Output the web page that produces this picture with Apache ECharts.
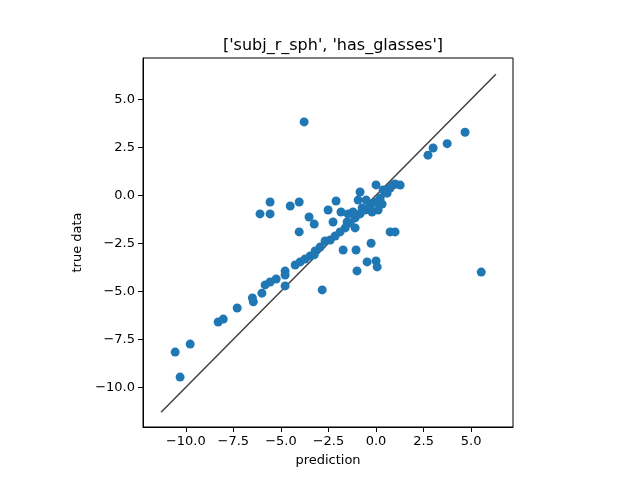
<!DOCTYPE html>
<html>
<head>
<meta charset="utf-8">
<script src="https://cdn.jsdelivr.net/npm/echarts@6/dist/echarts.min.js"></script>
<style>html,body{margin:0;padding:0;background:#fff}#main{width:640px;height:480px}</style>
</head>
<body>
<div id="main"></div>
<script>
// prediction vs true data
var points = [
	[-10.56, -8.17], [-9.77, -7.75], [-10.3, -9.47], [-8.3, -6.6], [-8.03, -6.45],
	[-7.3, -5.87], [-6.5, -5.35], [-6.45, -5.55], [-6.0, -5.1], [-5.83, -4.67],
	[-5.57, -4.52], [-5.25, -4.36], [-4.78, -3.95], [-4.78, -4.15], [-4.78, -4.72],
	[-4.25, -3.63], [-3.99, -3.47], [-3.73, -3.32], [-3.46, -3.16], [-3.25, -3.1],
	[-3.2, -2.9], [-2.94, -2.7], [-2.68, -2.38], [-2.41, -2.33], [-2.15, -2.12],
	[-1.89, -1.91], [-1.62, -1.7], [-1.36, -1.44], [-1.1, -1.18], [-0.84, -0.97],
	[-0.57, -0.77], [-0.31, -0.56], [-0.05, -0.35], [0.22, -0.14], [0.48, 0.17],
	[0.74, 0.38], [1.0, 0.59], [1.27, 0.53], [-3.78, 3.82], [4.68, 3.28],
	[3.74, 2.69], [3.0, 2.46], [2.73, 2.09], [5.53, -4.0], [-5.57, -0.97],
	[-6.1, -0.97], [-5.57, -0.35], [-4.51, -0.56], [-4.04, -0.35], [-4.04, -1.91],
	[-3.52, -1.13], [-3.25, -1.5], [-2.83, -4.93], [-2.52, -0.77], [-2.1, -0.3],
	[-1.84, -0.87], [-1.73, -2.85], [-1.05, -2.85], [-1.0, -3.94], [-0.84, 0.17],
	[-0.47, -3.47], [-0.26, -2.5], [0.0, -3.42], [0.06, -3.73], [0.74, -1.91],
	[1.0, -1.91], [-0.94, -0.25], [-1.47, -0.97], [-1.21, -0.87], [-0.52, -0.25],
	[0.0, 0.54], [0.37, 0.28], [0.58, 0.11], [0.32, -0.46], [0.11, -0.77],
	[-0.21, -0.87], [-0.73, -0.66], [-1.1, -1.7], [-1.52, -1.39], [-2.26, -1.39],
	[0.9, 0.54]
];
var diagonal = [[-11.3, -11.3], [6.3, 6.3]];
var xTicks = [-10, -7.5, -5, -2.5, 0, 2.5, 5];
var yTicks = [-10, -7.5, -5, -2.5, 0, 2.5, 5];
var titleText = "['subj_r_sph', 'has_glasses']";

var myChart = echarts.init(document.getElementById('main'));
var font = 'DejaVu Sans';
function fmt(v) { return v.toFixed(1).replace('-', '\u2212'); }
function axis(name, min, max, ticks, gap) {
	return {
		type: 'value', min: min, max: max,
		name: name, nameLocation: 'middle', nameGap: gap,
		nameTextStyle: { fontFamily: font, fontSize: 13, color: '#000' },
		axisLine: { onZero: false, lineStyle: { color: '#000' } },
		axisTick: { length: 5, customValues: ticks, lineStyle: { color: '#000' } },
		splitLine: { show: false },
		axisLabel: { fontFamily: font, fontSize: 13, color: '#000', customValues: ticks, formatter: fmt }
	};
}
var option = {
	animation: false,
	title: {
		text: titleText, left: 328, top: 33, textAlign: 'center',
		textStyle: { fontFamily: font, fontSize: 16, fontWeight: 'normal', color: '#000' }
	},
	grid: { left: 143, right: 127, top: 58, bottom: 53, show: true, borderColor: '#000', borderWidth: 1 },
	xAxis: axis('prediction', -12.25, 7.2, xTicks, 27),
	yAxis: axis('true data', -12.07, 7.15, yTicks, 57),
	series: [
		{
			type: 'line', data: diagonal, symbol: 'none',
			lineStyle: { color: '#404040', width: 1.5 }, z: 1
		},
		{
			type: 'scatter', data: points, symbolSize: 9,
			itemStyle: { color: '#1f77b4', opacity: 1 }, z: 2
		}
	]
};
myChart.setOption(option, true);
</script>
</body>
</html>
